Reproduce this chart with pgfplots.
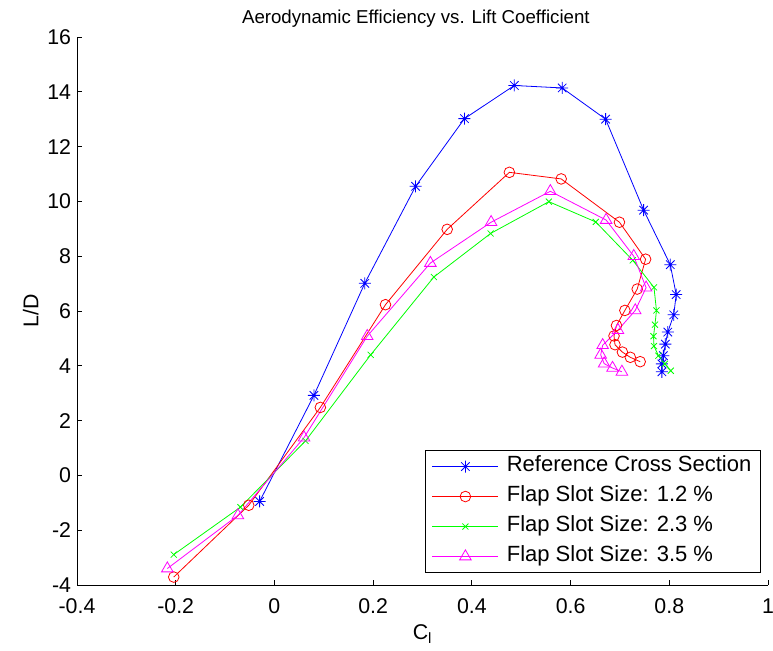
\documentclass[border=0pt]{standalone}
\usepackage{pgfplots}
\pgfplotsset{compat=1.18}
\usepackage{fontspec}
\setmainfont{Liberation Sans}
\usetikzlibrary{calc}
\definecolor{mblue}{RGB}{0,0,255}
\definecolor{mred}{RGB}{255,0,0}
\definecolor{mgreen}{RGB}{0,255,0}
\definecolor{mmag}{RGB}{255,0,255}
\pgfdeclareplotmark{mast}{%
 \pgfpathmoveto{\pgfqpoint{-\pgfplotmarksize}{0pt}}\pgfpathlineto{\pgfqpoint{\pgfplotmarksize}{0pt}}%
 \pgfpathmoveto{\pgfqpoint{0pt}{-\pgfplotmarksize}}\pgfpathlineto{\pgfqpoint{0pt}{\pgfplotmarksize}}%
 \pgfpathmoveto{\pgfqpoint{-0.707\pgfplotmarksize}{-0.707\pgfplotmarksize}}\pgfpathlineto{\pgfqpoint{0.707\pgfplotmarksize}{0.707\pgfplotmarksize}}%
 \pgfpathmoveto{\pgfqpoint{-0.707\pgfplotmarksize}{0.707\pgfplotmarksize}}\pgfpathlineto{\pgfqpoint{0.707\pgfplotmarksize}{-0.707\pgfplotmarksize}}%
 \pgfusepathqstroke}
\begin{document}
\begin{tikzpicture}
\begin{axis}[
  scale only axis,
  width=518.25pt, height=411pt,
  xmin=-0.4, xmax=1, ymin=-4, ymax=16,
  xtick={-0.4,-0.2,0,0.2,0.4,0.6,0.8,1},
  ytick={-4,-2,0,2,4,6,8,10,12,14,16},
  axis lines=left,
  axis line style={-, line width=0.6pt},
  tick align=inside,
  major tick length=4pt,
  tick style={line width=0.6pt, black},
  /pgf/number format/assume math mode=true,
  ticklabel style={font=\fontsize{16}{19}\selectfont, inner sep=0pt},
  xticklabel style={yshift=-9.8pt},
  yticklabel style={xshift=-4.3pt},
  title={Aerodynamic Efficiency vs. Lift Coefficient},
  title style={font=\fontsize{14}{17}\selectfont, yshift=-2pt, xshift=-5pt},
  xlabel={C\textsubscript{l}},
  ylabel={L/D},
  label style={font=\fontsize{16}{19}\selectfont},
  xlabel style={yshift=-5pt},
  ylabel style={yshift=3pt},
  legend cell align=left,
  legend style={at={(rel axis cs:0.990,0.022)}, anchor=south east,
    font=\fontsize{16.5}{19}\selectfont, draw=black, line width=0.6pt,
    inner xsep=5pt,
    nodes={inner sep=2pt, text height=12pt, text depth=4pt}, row sep=2.5pt,
    /tikz/every odd column/.append style={column sep=4pt}},
  legend image code/.code={\draw[mark repeat=2,mark phase=2] plot coordinates {(0cm,0cm) (0.87cm,0cm) (1.74cm,0cm)};},
]
\addplot[mblue, line width=0.6pt, mark=mast, mark size=4.5pt] coordinates {
(-0.030,-0.95) (0.080,2.92) (0.183,7.01) (0.286,10.55) (0.385,13.02) (0.486,14.23)
(0.583,14.14) (0.671,13.00) (0.748,9.68) (0.802,7.69) (0.814,6.60) (0.809,5.86)
(0.797,5.23) (0.792,4.79) (0.788,4.37) (0.785,4.07) (0.785,3.78)};
\addlegendentry{Reference Cross Section}
\addplot[mred, line width=0.6pt, mark=o, mark size=4pt] coordinates {
(-0.204,-3.71) (-0.052,-1.09) (0.093,2.48) (0.225,6.23) (0.350,8.98) (0.476,11.06)
(0.581,10.82) (0.699,9.24) (0.752,7.89) (0.735,6.80) (0.710,6.02) (0.693,5.47)
(0.688,5.09) (0.690,4.77) (0.705,4.50) (0.721,4.31) (0.741,4.15)};
\addlegendentry{Flap Slot Size: 1.2 \%}
\addplot[mgreen, line width=0.6pt, mark=x, mark size=3.2pt] coordinates {
(-0.204,-2.89) (-0.069,-1.16) (0.063,1.26) (0.195,4.40) (0.323,7.24) (0.438,8.83)
(0.556,9.99) (0.651,9.25) (0.726,7.85) (0.769,6.86) (0.774,6.02) (0.771,5.50)
(0.768,5.08) (0.769,4.72) (0.778,4.37) (0.791,4.07) (0.803,3.82)};
\addlegendentry{Flap Slot Size: 2.3 \%}
\addplot[mmag, line width=0.6pt, mark=triangle, mark size=5pt] coordinates {
(-0.217,-3.40) (-0.074,-1.46) (0.060,1.38) (0.188,5.08) (0.316,7.75) (0.439,9.24)
(0.559,10.37) (0.672,9.32) (0.728,8.00) (0.753,6.85) (0.731,6.02) (0.696,5.30)
(0.665,4.75) (0.661,4.40) (0.668,4.08) (0.685,3.92) (0.704,3.78)};
\addlegendentry{Flap Slot Size: 3.5 \%}
\end{axis}
\pgfresetboundingbox
\path ($(current axis.south west)+(-57.75pt,-49.5pt)$) rectangle ($(current axis.north east)+(3.75pt,27.75pt)$);
\end{tikzpicture}
\end{document}
